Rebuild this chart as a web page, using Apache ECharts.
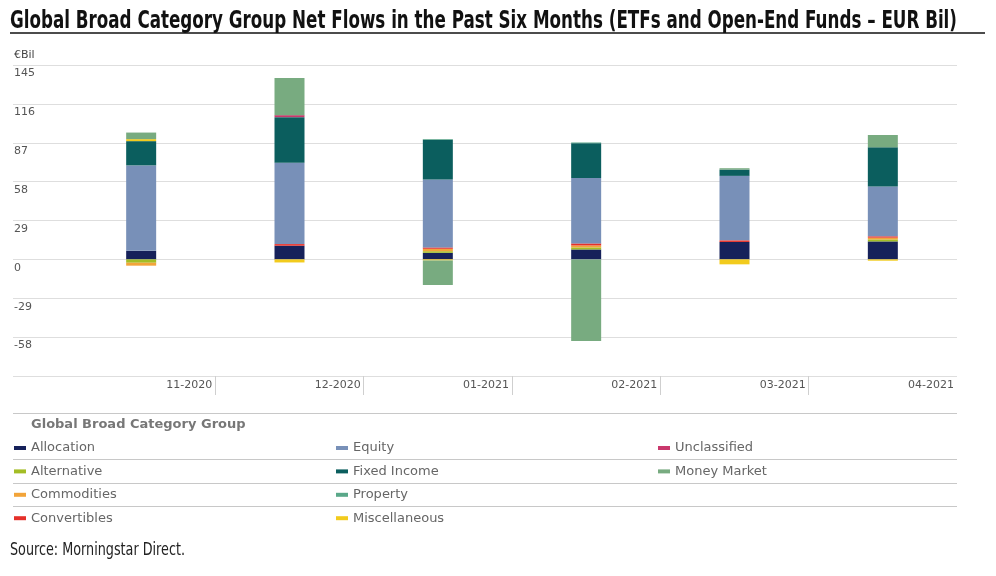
<!DOCTYPE html>
<html>
<head>
<meta charset="utf-8">
<script src="https://cdn.jsdelivr.net/npm/echarts@6/dist/echarts.min.js"></script>
<style>
html,body{margin:0;padding:0;background:#fff;}
#chart{width:996px;height:576px;}
</style>
</head>
<body>
<div id="chart"></div>
<script>
var categories = ['11-2020', '12-2020', '01-2021', '02-2021', '03-2021', '04-2021'];
var yTicks = { min: -87, max: 145, step: 29 };

var allocation    = [6.4, 10.2, 4.9, 7.4, 13.0, 13.4];
var alternative   = [-2.5, 0, 1.2, 1.5, 0, 1.5];
var commodities   = [-2.2, 0, 1.8, 1.5, 0, 1.3];
var convertibles  = [0, 1.2, 1.0, 1.5, 1.2, 1.0];
var equity        = [63.7, 60.7, 50.6, 48.8, 48.1, 37.2];
var fixedIncome   = [18.1, 34.0, 29.7, 26.0, 4.7, 29.2];
var property      = [0, 0, 0.5, 0.5, 0, 0];
var miscellaneous = [1.5, -2.3, -0.8, 0, -3.7, -1.0];
var unclassified  = [0, 1.5, 0, 0, 0, 0];
var moneyMarket   = [4.9, 27.7, -18.3, -60.8, 1.0, 9.2];

var seriesDefs = [
  ['Allocation', allocation, '#16215a'],
  ['Alternative', alternative, '#a3bd25'],
  ['Commodities', commodities, '#f2a43a'],
  ['Convertibles', convertibles, '#e5302a'],
  ['Equity', equity, '#7890b8'],
  ['Fixed Income', fixedIncome, '#0b5e5e'],
  ['Property', property, '#5aa889'],
  ['Miscellaneous', miscellaneous, '#f2cb1d'],
  ['Unclassified', unclassified, '#c9386c'],
  ['Money Market', moneyMarket, '#78ab80']
];

var legendCols = [
  ['Allocation', 'Alternative', 'Commodities', 'Convertibles'],
  ['Equity', 'Fixed Income', 'Property', 'Miscellaneous'],
  ['Unclassified', 'Money Market']
];
var legendLefts = [14, 336, 658];

var titleText = 'Global Broad Category Group Net Flows in the Past Six Months (ETFs and Open-End Funds \u2013 EUR Bil)';
var sourceText = 'Source: Morningstar Direct.';
var titleFont = 'bold 24px "Liberation Sans Narrow", "DejaVu Sans Condensed", sans-serif';
var sourceFont = '17px "Liberation Sans Narrow", "DejaVu Sans Condensed", sans-serif';

function fitScale(text, font, target) {
  var ctx = document.createElement('canvas').getContext('2d');
  ctx.font = font;
  var w = ctx.measureText(text).width;
  return w > 0 ? target / w : 1;
}

var chart = echarts.init(document.getElementById('chart'), null, { renderer: 'canvas' });

var series = seriesDefs.map(function (d) {
  return {
    name: d[0], type: 'bar', stack: 'total', data: d[1],
    xAxisIndex: 1, yAxisIndex: 1, barWidth: 30,
    itemStyle: { color: d[2] }, emphasis: { disabled: true }
  };
});

var legends = legendCols.map(function (col, i) {
  return {
    data: col, orient: 'vertical', left: legendLefts[i], top: 440, padding: 0,
    icon: 'rect', itemWidth: 12, itemHeight: 4, itemGap: 7.4,
    selectedMode: false,
    textStyle: { fontFamily: 'DejaVu Sans', fontSize: 13, color: '#666', lineHeight: 16 }
  };
});

var lineStyle = { stroke: '#c8c8c8', lineWidth: 1 };
var option = {
  animation: false,
  backgroundColor: '#fff',
  grid: [
    { left: 13, right: 39, top: 65, bottom: 200 },
    { left: 67, right: 39, top: 65, bottom: 200 }
  ],
  xAxis: [
    { type: 'value', gridIndex: 0, show: false, min: 0, max: 1 },
    { type: 'category', gridIndex: 1, data: categories,
      axisLine: { show: false }, axisTick: { show: false }, axisLabel: { show: false } },
    { type: 'category', gridIndex: 1, data: [''].concat(categories), boundaryGap: false,
      position: 'bottom',
      axisLine: { show: false },
      axisTick: { show: true, length: 19, lineStyle: { color: '#cfcfcf' },
        interval: function (idx) { return idx !== 0 && idx !== categories.length; } },
      axisLabel: { interval: 0, align: 'right', margin: 4, padding: [0, 3, 0, 0],
        fontFamily: 'DejaVu Sans', fontSize: 11, color: '#555' } }
  ],
  yAxis: [
    { type: 'value', gridIndex: 0, min: yTicks.min, max: yTicks.max, interval: yTicks.step,
      axisLine: { show: false }, axisTick: { show: false },
      splitLine: { show: true, lineStyle: { color: '#dedede', width: 1 } },
      axisLabel: { inside: true, margin: 1, verticalAlign: 'top', padding: [3, 0, 0, 0],
        fontFamily: 'DejaVu Sans', fontSize: 11, color: '#555',
        formatter: function (v) { return v === yTicks.min ? '' : String(v); } } },
    { type: 'value', gridIndex: 1, min: yTicks.min, max: yTicks.max, interval: yTicks.step,
      show: false, splitLine: { show: false } }
  ],
  legend: legends,
  series: series,
  graphic: [
    { type: 'text', x: 10, y: 10, scaleX: fitScale(titleText, titleFont, 947),
      style: { text: titleText, font: titleFont, fill: '#111', textVerticalAlign: 'top', verticalAlign: 'top' } },
    { type: 'line', shape: { x1: 10, y1: 33, x2: 985, y2: 33 }, style: { stroke: '#111', lineWidth: 1.5 } },
    { type: 'text', left: 14, top: 50,
      style: { text: '\u20acBil', font: '11px "DejaVu Sans"', fill: '#444' } },
    { type: 'line', shape: { x1: 13, y1: 413.5, x2: 957, y2: 413.5 }, style: lineStyle },
    { type: 'text', left: 31, top: 418,
      style: { text: 'Global Broad Category Group', font: 'bold 13px "DejaVu Sans"', fill: '#777' } },
    { type: 'line', shape: { x1: 13, y1: 459.5, x2: 957, y2: 459.5 }, style: lineStyle },
    { type: 'line', shape: { x1: 13, y1: 483.5, x2: 957, y2: 483.5 }, style: lineStyle },
    { type: 'line', shape: { x1: 13, y1: 506.5, x2: 957, y2: 506.5 }, style: lineStyle },
    { type: 'text', x: 10, y: 542, scaleX: fitScale(sourceText, sourceFont, 175),
      style: { text: sourceText, font: sourceFont, fill: '#222', textVerticalAlign: 'top', verticalAlign: 'top' } }
  ]
};
chart.setOption(option);
</script>
</body>
</html>
